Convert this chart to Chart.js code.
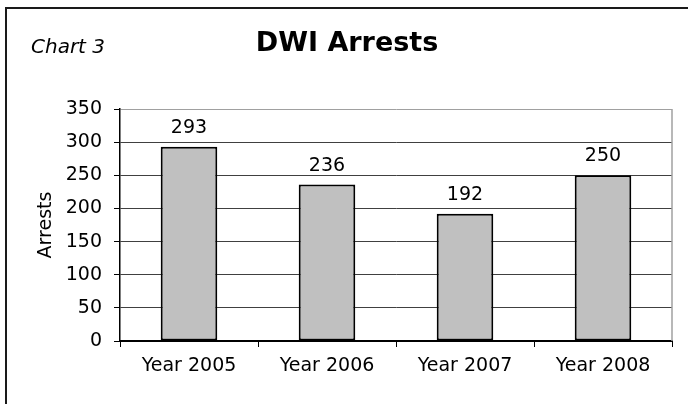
<!DOCTYPE html>
<html>
<head>
<meta charset="utf-8">
<script src="https://cdn.jsdelivr.net/npm/chart.js@4/dist/chart.umd.min.js"></script>
<style>
  html, body { margin: 0; padding: 0; background: #fff; }
  #wrap { position: relative; width: 688px; height: 404px; overflow: hidden; }
  #frame { position: absolute; left: 5px; top: 7px; width: 800px; height: 500px;
           border-left: 2px solid #1a1a1a; border-top: 2px solid #1a1a1a; pointer-events: none; }
  canvas { position: absolute; left: 0; top: 0; }
</style>
</head>
<body>
<div id="wrap">
  <canvas id="c" width="688" height="404"></canvas>
  <div id="frame"></div>
</div>
<script>
const categories = ["Year 2005", "Year 2006", "Year 2007", "Year 2008"];
const arrests = [293, 236, 192, 250];
const yTicks = [0, 50, 100, 150, 200, 250, 300, 350];
const chartTitle = "DWI Arrests";
const chartTag = "Chart 3";
const yAxisTitle = "Arrests";

const FONT = "'DejaVu Sans', Verdana, sans-serif";

const decor = {
  id: 'decor',
  afterDatasetsDraw(chart) {
    const ctx = chart.ctx;
    const area = chart.chartArea;
    ctx.save();
    // plot right border
    ctx.strokeStyle = '#a0a0a0';
    ctx.lineWidth = 1.5;
    ctx.beginPath();
    ctx.moveTo(area.right, area.top);
    ctx.lineTo(area.right, area.bottom);
    ctx.stroke();
    // value labels
    ctx.fillStyle = '#000';
    ctx.font = '19px ' + FONT;
    ctx.textAlign = 'center';
    ctx.textBaseline = 'alphabetic';
    const meta = chart.getDatasetMeta(0);
    meta.data.forEach((bar, i) => {
      ctx.fillText(String(arrests[i]), bar.x, bar.y - 14);
    });
    // titles
    ctx.font = 'bold 27px ' + FONT;
    ctx.fillText(chartTitle, 347, 51);
    ctx.font = 'italic 20px ' + FONT;
    ctx.textAlign = 'left';
    ctx.fillText(chartTag, 31, 53);
    ctx.restore();
  }
};

new Chart(document.getElementById('c'), {
  type: 'bar',
  data: {
    labels: categories,
    datasets: [{
      data: arrests,
      backgroundColor: '#c0c0c0',
      borderColor: '#000',
      borderWidth: 2,
      borderSkipped: false,
      categoryPercentage: 1,
      barPercentage: 0.41
    }]
  },
  options: {
    responsive: false,
    animation: false,
    events: [],
    layout: { padding: { top: 109, right: 16, bottom: 0, left: 0 } },
    plugins: { legend: { display: false }, title: { display: false }, tooltip: { enabled: false } },
    scales: {
      x: {
        offset: true,
        grid: { display: true, drawOnChartArea: false, drawTicks: true, tickLength: 6, color: '#000', offset: true },
        border: { display: true, color: '#000', width: 2 },
        ticks: { color: '#000', font: { family: FONT, size: 19 }, padding: 8, maxRotation: 0 },
        afterFit(scale) { scale.height = 63; }
      },
      y: {
        min: 0, max: 350,
        afterBuildTicks(scale) { scale.ticks = yTicks.map(v => ({ value: v })); },
        grid: {
          drawTicks: true, tickLength: 6,
          color: (c) => (c.tick && c.tick.value === 350) ? '#a0a0a0' : '#404040',
          tickColor: '#000',
          lineWidth: 1
        },
        border: { display: true, color: '#000', width: 1.5 },
        ticks: { color: '#000', font: { family: FONT, size: 19 }, padding: 12 },
        title: { display: true, text: yAxisTitle, color: '#000', font: { family: FONT, size: 19 }, padding: { top: 35, bottom: 0 } },
        afterFit(scale) { scale.width = 120; }
      }
    }
  },
  plugins: [decor]
});
</script>
</body>
</html>
